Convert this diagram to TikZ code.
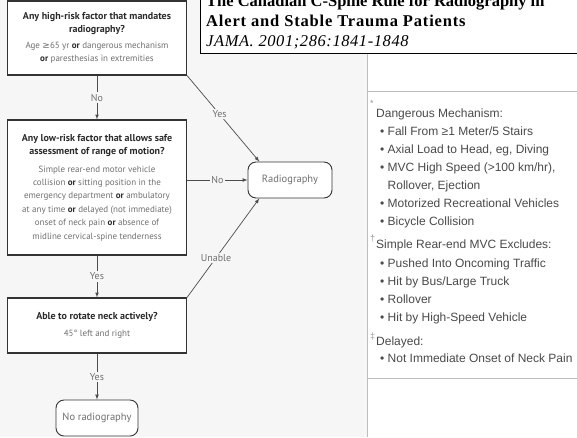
\documentclass[tikz,border=0pt]{standalone}
\usepackage{fontspec}
\usetikzlibrary{arrows}
\usetikzlibrary{shapes}
\usetikzlibrary{backgrounds,positioning}
\setmainfont{Liberation Serif}
\newfontfamily\boxfont{PT Sans}
\newfontfamily\notefont{Liberation Sans}
\newfontfamily\symfont{DejaVu Sans}
\usepackage{xcolor}
\definecolor{bg}{HTML}{F6F6F6}
\definecolor{qtext}{HTML}{2B2B2B}
\definecolor{dtext}{HTML}{707070}
\definecolor{ntext}{HTML}{4A4A4A}
\definecolor{sidemark}{HTML}{9A9A9A}
\definecolor{rulegray}{HTML}{BDBDBD}
\newcommand{\qline}[1]{{\fontsize{10}{14}\selectfont\textcolor{qtext}{\textbf{#1}}}}
\newcommand{\orw}{\textcolor{qtext}{\textbf{or}}}

\begin{document}
\begin{tikzpicture}[x=1pt,y=-1pt]
      \tikzstyle{box}=[draw=black!80,line width=1.2pt,fill=white,rectangle,minimum width=179pt,align=center,inner sep=0pt,text=dtext,font=\boxfont\fontsize{9}{13.4}\selectfont]
      \tikzstyle{endbox}=[draw=black!80,line width=0.9pt,fill=white,rectangle,rounded corners=8pt,minimum height=36pt,text=dtext,font=\boxfont\fontsize{10.5}{12}\selectfont]
      \tikzstyle{lbl}=[fill=bg,inner sep=1.5pt,text=dtext,font=\boxfont\fontsize{10}{12}\selectfont]
      \tikzstyle{link}=[draw=black!70,line width=0.7pt]
      \tikzstyle{note}=[anchor=base west,inner sep=0pt,text=ntext,font=\notefont\fontsize{12}{14}\selectfont]
      \tikzstyle{sign}=[anchor=base west,inner sep=0pt,text=sidemark,font=\notefont\fontsize{9}{10}\selectfont]
      \tikzstyle{ttl}=[anchor=base west,inner sep=0pt,font=\fontsize{16.5}{20}\selectfont]
      \clip (0,0) rectangle (577,437);
      \fill[bg] (0,0) rectangle (577,437);
      \fill[white] (367,53) rectangle (577,437);
      \draw[rulegray] (367,53) -- (367,437);
      \draw[rulegray] (367,91) -- (577,91);
      \draw[rulegray] (367,378) -- (577,378);
      \draw[black,line width=0.8pt,fill=white] (200,-5) rectangle (582,53);

      \node[ttl] (t1) at (206,6)  {\textbf{The Canadian C-Spine Rule for Radiography in}};
      \node[ttl] (t2) at (206,26) {\addfontfeature{LetterSpace=5}\textbf{Alert and Stable Trauma Patients}};
      \node[ttl] (t3) at (206,46) {\addfontfeature{LetterSpace=3.5}\textit{JAMA. 2001;286:1841-1848}};

      \node[box,minimum height=74pt] (high) at (97,38)
        {\qline{Any high-risk factor that mandates}\\ \qline{radiography?}\\[2pt]
         Age {\symfont ≥}65 yr \orw{} dangerous mechanism\\ \orw{} paresthesias in extremities};
      \node[box,minimum height=135pt] (low) at (97,187.5)
        {\qline{Any low-risk factor that allows safe}\\ \qline{assessment of range of motion?}\\[4pt]
         Simple rear-end motor vehicle\\ collision \orw{} sitting position in the\\
         emergency department \orw{} ambulatory\\ at any time \orw{} delayed (not immediate)\\
         onset of neck pain \orw{} absence of\\ midline cervical-spine tenderness};
      \node[box,minimum height=55pt] (rotate) at (97,325.5)
        {\qline{Able to rotate neck actively?}\\[3pt] 45° left and right};
      \node[endbox,minimum width=84pt] (radio) at (290,180) {Radiography};
      \node[endbox,minimum width=82pt] (noradio) at (97,418) {No radiography};

    	\draw[link,-latex] (high) -- (low) node[lbl,midway] {No};
    	\draw[link,-latex] (low) -- (rotate) node[lbl,midway] {Yes};
    	\draw[link,-latex] (rotate) -- (noradio) node[lbl,midway] {Yes};
    	\draw[link,-latex] (low.east |- radio) -- (radio) node[lbl,midway] {No};
      \draw[link,-latex] (high.south east) -- (radio.149) node[lbl,pos=0.45] {Yes};
      \draw[link,-latex] (rotate.north east) -- (radio.211) node[lbl,pos=0.4] {Unable};

      \node[sign] (s1) at (370,106) {*};
      \node[note] (d0) at (376,117.5) {Dangerous Mechanism:};
      \node[note] (d1) at (380,135.5) {• Fall From ≥1 Meter/5 Stairs};
      \node[note] (d2) at (380,153.5) {• Axial Load to Head, eg, Diving};
      \node[note] (d3) at (380,171.5) {• MVC High Speed (>100 km/hr),};
      \node[note] (d4) at (387.5,189.5) {Rollover, Ejection};
      \node[note] (d5) at (380,207.5) {• Motorized Recreational Vehicles};
      \node[note] (d6) at (380,225.5) {• Bicycle Collision};
      \node[sign] (s2) at (370,241) {†};
      \node[note] (r0) at (376,248.5) {Simple Rear-end MVC Excludes:};
      \node[note] (r1) at (380,267.5) {• Pushed Into Oncoming Traffic};
      \node[note] (r2) at (380,285.5) {• Hit by Bus/Large Truck};
      \node[note] (r3) at (380,303.5) {• Rollover};
      \node[note] (r4) at (380,321.5) {• Hit by High-Speed Vehicle};
      \node[sign] (s3) at (370,339) {‡};
      \node[note] (l0) at (376,345.5) {Delayed:};
      \node[note] (l1) at (380,362.5) {• Not Immediate Onset of Neck Pain};
    \end{tikzpicture}
\end{document}
